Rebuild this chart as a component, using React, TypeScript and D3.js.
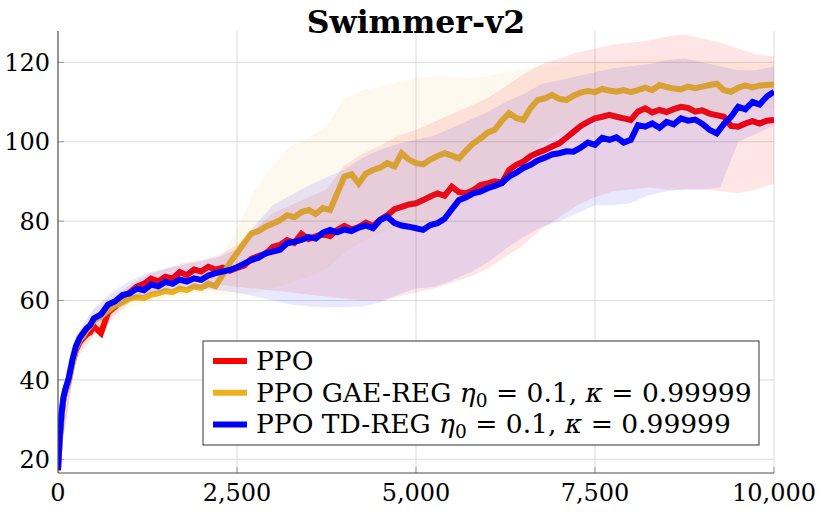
import React from 'react';
import * as d3 from 'd3';

// Swimmer-v2 learning curves: mean return with a thick line, spread as a faint band.
const title = 'Swimmer-v2';
const xTicks = [0, 2500, 5000, 7500, 10000];
const yTicks = [20, 40, 60, 80, 100, 120];

// x positions of the mean curves (dense at the start where the curves climb fast)
const steps = [0, 25, 50, 75, 100, 150, 200, 250, 300, 350, 400, 450, 500].concat(
  d3.range(600, 10001, 100),
);
// x positions of the band edges
const bandSteps = d3.range(0, 10001, 250);

const ppoMean = [
  17.5, 25, 31, 35, 37, 40, 44, 47.5, 49.5, 50.5, 51.5, 52, 53.5,
  51.8, 57, 58.5, 60.5, 62, 63.5, 64.2, 65.5, 64.8, 66,
  65.5, 67.2, 66.4, 67.8, 67.3, 68.5, 67.8, 68.3, 67.5, 68.2,
  68.8, 70.5, 71.2, 71.8, 73.5, 74, 75.2, 74.5, 76.8, 75.5,
  76.2, 76.8, 76.2, 77.8, 78.8, 77.9, 78.5, 79.6, 78.8, 80.4,
  81.5, 83, 83.6, 84.2, 84.5, 85.3, 86.2, 87, 86.4, 88.7,
  87.3, 87, 87.8, 89.1, 89.5, 90, 89.7, 92.9, 94.2, 95,
  96.4, 97.2, 97.9, 98.8, 99.6, 101, 102.5, 104, 105, 105.9,
  106.3, 106.8, 106.3, 105.9, 105.5, 107.6, 108.4, 107.4, 108, 107.5,
  108.2, 108.8, 108.5, 107.6, 107.9, 107.1, 106.7, 106.3, 104, 103.8,
  104.6, 105.2, 104.6, 105.3, 105.5,
];
const gaeMean = [
  17, 25.5, 31, 35, 37, 39.5, 44, 48, 50, 51, 52.5, 53.5, 55,
  56, 57.5, 58.8, 59.5, 60.5, 60.8, 60.6, 61.5, 61.8, 62.4,
  62.1, 63, 62.6, 63.5, 63.2, 64.2, 63.6, 66.5, 69.5, 72,
  74.5, 76.9, 77.5, 78.6, 79.4, 80.2, 81.5, 81, 82.3, 82.8,
  81.8, 83.3, 82.8, 87, 91.2, 91.8, 89.5, 92, 92.9, 93.5,
  94.6, 93.8, 97.1, 95.5, 94.6, 94.3, 95.5, 96.4, 97.1, 96.5,
  95.8, 97.8, 99.6, 100.8, 102.3, 103, 105.3, 107.2, 106, 105.5,
  108.5, 110.5, 110.9, 111.8, 110.8, 110.5, 111.6, 112.4, 112.8, 112.5,
  113.3, 112.9, 112.6, 113, 112.5, 113, 113.6, 113, 114.3, 113.8,
  113.4, 113.2, 113.9, 113.5, 113.9, 114.3, 114.6, 113, 112.6, 113.6,
  114.2, 113.7, 114.2, 114.3, 114.4,
];
const tdMean = [
  17.3, 26, 31.7, 35.5, 37.5, 40.5, 45, 48.5, 50.5, 51.8, 53, 53.8, 55.5,
  56.5, 59, 59.8, 61.4, 61.8, 63, 62.6, 64, 63.6, 64.7,
  64.2, 65.3, 64.8, 65.6, 65.2, 66.3, 66.9, 67.3, 67.7, 68.4,
  69.3, 70.2, 70.8, 71.9, 72.3, 72.8, 74.4, 74.8, 75.3, 76,
  75.6, 77.1, 77.8, 77.2, 77.9, 77.5, 78.4, 78.9, 78.2, 80.3,
  81.1, 79.5, 78.9, 78.6, 78.2, 77.8, 79, 79.5, 80.6, 83,
  85.3, 86, 87, 87.4, 88.3, 88.9, 89.6, 91.2, 92.2, 93.4,
  94.2, 95.3, 96, 96.8, 97.1, 97.6, 97.5, 98.5, 99.8, 99.2,
  101, 100.5, 101.1, 99.8, 100.5, 104.2, 103.8, 104.6, 103.5, 105,
  104.4, 105.9, 105.3, 105.6, 104.5, 103, 102.1, 104.5, 106.3, 108.8,
  108.2, 110, 109.4, 111.4, 112.6,
];

const ppoLo = [
  16.8, 45, 51, 55, 59.5, 62, 63, 64, 64.5, 64, 63.5, 63, 62.5, 62, 61.5, 61, 60.5, 60, 60, 61,
  62, 63, 64.5, 66, 68, 71, 74, 78, 81, 84, 86, 87.5, 88, 88.5, 88, 88, 88, 87.5, 87, 88, 89.5,
];
const ppoHi = [
  18.5, 50, 56, 60, 64, 66.5, 68, 69.5, 70, 71.5, 74, 78, 82, 84, 86, 88, 94, 97, 99, 101.5,
  103, 105, 107, 109, 111, 114, 117, 119.5, 121, 122.5, 123.5, 124.5, 125, 125.5, 126.5, 127,
  126, 125, 123.5, 122, 121.5,
];
const gaeLo = [
  16.8, 45.5, 52, 56, 58.5, 59.5, 60.5, 61, 61.5, 61.5, 61.5, 62, 63, 64.5, 66, 68, 72, 75, 77,
  78.5, 79, 80, 82, 85, 88, 92, 96, 100, 102.5, 104, 105, 105.5, 106, 106, 106.5, 106.5, 107, 107,
  107.5, 108, 108.5,
];
const gaeHi = [
  18.5, 51, 58, 61.5, 63.5, 64.5, 65.5, 66.5, 67.5, 70, 78, 88, 94, 99, 101, 104, 111, 113, 114,
  115, 116, 116.5, 116.5, 116, 116.5, 117.5, 118.5, 119, 119.5, 120, 120, 120, 120.5, 120.5, 121,
  121, 120.5, 120, 120, 119.5, 119.5,
];
const tdLo = [
  16.8, 46, 53, 57, 60, 61.5, 62.5, 63, 63, 62.5, 62, 61, 60, 59, 58.5, 58.3, 58.3, 58.5, 59.5,
  61.5, 63, 63.5, 65, 67, 69.5, 73, 76, 78.5, 80, 82, 84, 84, 84.5, 86.5, 87.5, 88, 88, 88.5, 100,
  102, 104,
];
const tdHi = [
  18.5, 51, 58, 62, 65, 67, 68, 69, 70, 71, 73, 79, 84, 86.5, 89, 91, 93, 96, 98, 99.5, 100.5,
  101.5, 103.5, 105.5, 107.5, 110, 112, 114.5, 115.5, 116.5, 117.5, 118.5, 119, 119.5, 120.5, 121,
  120, 119, 118, 118, 119,
];

const series = [
  { key: 'ppo', color: '#ff0000', mean: ppoMean, lo: ppoLo, hi: ppoHi, bandOpacity: 0.1 },
  { key: 'gae', color: '#edb120', mean: gaeMean, lo: gaeLo, hi: gaeHi, bandOpacity: 0.08 },
  { key: 'td', color: '#0000ff', mean: tdMean, lo: tdLo, hi: tdHi, bandOpacity: 0.09 },
];

const W = 822;
const H = 514;
const margin = { left: 58, right: 48, top: 31, bottom: 41 };
const font = "'DejaVu Serif', serif";
const tickFs = 24;
const legendFs = 26.5;

const x = d3.scaleLinear().domain([0, 10000]).range([margin.left, W - margin.right]);
const y = d3.scaleLinear().domain([16.55, 127.9]).range([H - margin.bottom, margin.top]);
const fmt = d3.format(',');

const meanLine = d3
  .line<number>()
  .x((_, i) => x(steps[i]))
  .y((d) => y(d));

const bandArea = (lo: number[], hi: number[]) =>
  d3
    .area<number>()
    .x((_, i) => x(bandSteps[i]))
    .y0((_, i) => y(lo[i]))
    .y1((d) => y(d))(hi);

const MathLabel = ({ prefix }: { prefix: string }) => (
  <>
    {prefix + ' '}
    <tspan fontStyle="italic">η</tspan>
    <tspan fontSize={legendFs * 0.7} dy={5}>
      0
    </tspan>
    <tspan dy={-5}>{' = 0.1, '}</tspan>
    <tspan fontStyle="italic">κ</tspan>
    {' = 0.99999'}
  </>
);

const legendItems = [
  { color: '#ff0000', label: <>PPO</> },
  { color: '#edb120', label: <MathLabel prefix="PPO GAE-REG" /> },
  { color: '#0000ff', label: <MathLabel prefix="PPO TD-REG" /> },
];

export default function App() {
  const [x0, x1] = x.range();
  const [yb, yt] = y.range();
  return (
    <svg
      width={W}
      height={H}
      style={{ position: 'absolute', left: 0, top: 0, background: '#fff', fontFamily: font }}
    >
      <defs>
        <clipPath id="plot-clip">
          <rect x={x0} y={yt} width={x1 - x0} height={yb - yt} />
        </clipPath>
      </defs>

      {/* grid */}
      <g stroke="#dcdcdc" strokeWidth={1}>
        {yTicks.map((t) => (
          <line key={'gy' + t} x1={x0} x2={x1} y1={y(t)} y2={y(t)} />
        ))}
        {xTicks.slice(1).map((t) => (
          <line key={'gx' + t} x1={x(t)} x2={x(t)} y1={yt} y2={yb} />
        ))}
      </g>
      <g stroke="#999" strokeWidth={1}>
        {yTicks.map((t) => (
          <line key={'ty' + t} x1={x0} x2={x0 + 6} y1={y(t)} y2={y(t)} />
        ))}
        {xTicks.slice(1).map((t) => (
          <line key={'tx' + t} x1={x(t)} x2={x(t)} y1={yb} y2={yb - 6} />
        ))}
      </g>

      {/* each series: mean line, then its spread band on top */}
      <g clipPath="url(#plot-clip)">
        {series.map((s) => (
          <g key={s.key}>
            <path
              d={meanLine(s.mean) || ''}
              fill="none"
              stroke={s.color}
              strokeWidth={6}
              strokeLinejoin="miter"
            />
            <path d={bandArea(s.lo, s.hi) || ''} fill={s.color} fillOpacity={s.bandOpacity} />
          </g>
        ))}
      </g>

      {/* axes */}
      <g stroke="#4d4d4d" strokeWidth={1.2}>
        <line x1={x0} x2={x0} y1={yt} y2={yb} />
        <line x1={x0} x2={x1} y1={yb} y2={yb} />
      </g>

      <g fontSize={tickFs} fill="#000">
        {yTicks.map((t) => (
          <text key={'ly' + t} x={x0 - 8} y={y(t)} dy="0.36em" textAnchor="end">
            {t}
          </text>
        ))}
        {xTicks.map((t) => (
          <text key={'lx' + t} x={x(t)} y={500.5} textAnchor="middle">
            {fmt(t)}
          </text>
        ))}
      </g>

      <text x={(x0 + x1) / 2} y={33} textAnchor="middle" fontWeight="bold" fontSize={31.5}>
        {title}
      </text>

      {/* legend */}
      <g>
        <rect x={203} y={341} width={556} height={104} fill="#fff" stroke="#333" strokeWidth={1} />
        {legendItems.map((it, i) => (
          <g key={i}>
            <line
              x1={213}
              x2={247}
              y1={361 + i * 31.7}
              y2={361 + i * 31.7}
              stroke={it.color}
              strokeWidth={6}
            />
            <text x={256} y={370 + i * 31.7} fontSize={legendFs} style={{ whiteSpace: 'pre' }}>
              {it.label}
            </text>
          </g>
        ))}
      </g>
    </svg>
  );
}
